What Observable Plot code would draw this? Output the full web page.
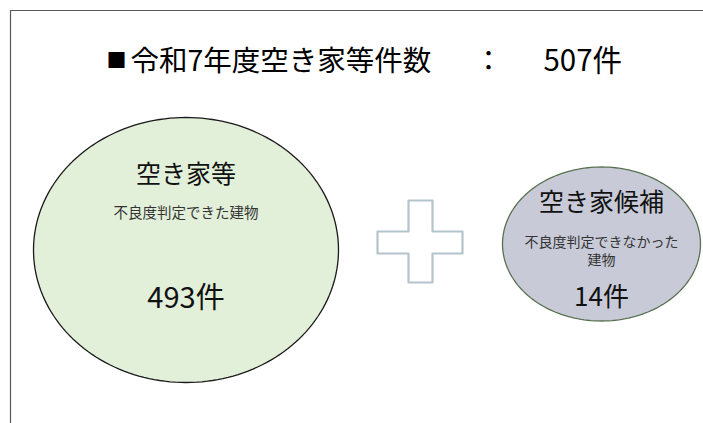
<!DOCTYPE html>
<html><head><meta charset="utf-8">
<script src="https://cdn.jsdelivr.net/npm/d3@7"></script>
<script src="https://cdn.jsdelivr.net/npm/@observablehq/plot@0.6"></script>
<style>html,body{margin:0;padding:0;background:#fff}#chart svg{display:block}</style>
</head><body><div id="chart"></div>
<script>
// ---- data ----
const titleBullet = "■";
const titleText = "令和7年度空き家等件数";
const colonText = "：";
const total = 507;
const unit = "件";
const categories = ["空き家等", "空き家候補"];
const counts = [493, 14];
const descriptions = [["不良度判定できた建物"], ["不良度判定できなかった", "建物"]];

// ---- layout & style (not data) ----
const W = 703, H = 423;
const font = "'Noto Sans CJK JP', 'Noto Sans', sans-serif";
const titleLayout = {y: 61, size: 28.5, bulletX: 116, bulletSize: 20, mainX: 130, colonX: 488, totalX: 543, totalSize: 29.5};
const shapes = [
  {cx: 185.5, cy: 249.5, rx: 152.5, ry: 132.5, fill: "#e2efd9", stroke: "#1a1a1a",
   labelY: 174.5, labelSize: 25, descY: 211.5, descSize: 14.5, countY: 298.5, countSize: 29},
  {cx: 601, cy: 243.5, rx: 99, ry: 77, fill: "#c8cad8", stroke: "#5a7152",
   labelY: 202.5, labelSize: 25, descY: 250, descSize: 14, countY: 297.5, countSize: 26}
];
const descLineHeight = 1.22;
const plusBox = {x0: 377, x1: 462, y0: 200, y1: 282, ax0: 408, ax1: 432, ay0: 231, ay1: 253};

// ellipses
const ellipsePts = [];
categories.forEach((c, i) => {
  const s = shapes[i];
  d3.range(0, 361, 2).forEach(a => {
    const t = a * Math.PI / 180;
    ellipsePts.push({cat: c, x: s.cx + s.rx * Math.cos(t), y: s.cy + s.ry * Math.sin(t)});
  });
});
// plus sign outline
const p = plusBox;
const plusPts = [
  [p.ax0,p.y0],[p.ax1,p.y0],[p.ax1,p.ay0],[p.x1,p.ay0],[p.x1,p.ay1],[p.ax1,p.ay1],
  [p.ax1,p.y1],[p.ax0,p.y1],[p.ax0,p.ay1],[p.x0,p.ay1],[p.x0,p.ay0],[p.ax0,p.ay0],[p.ax0,p.y0]
].map(([x,y]) => ({x, y}));

const labelRows = categories.map((c, i) => ({text: c, x: shapes[i].cx, y: shapes[i].labelY, size: shapes[i].labelSize}));
const descRows = descriptions.map((lines, i) => ({text: lines.join("\n"), x: shapes[i].cx, y: shapes[i].descY, size: shapes[i].descSize}));
const countRows = counts.map((v, i) => ({text: v + unit, x: shapes[i].cx, y: shapes[i].countY, size: shapes[i].countSize}));
const tl = titleLayout;

const chart = Plot.plot({
  width: W, height: H, margin: 0,
  style: {background: "#fff", overflow: "visible"},
  x: {domain: [0, W], range: [0, W], axis: null},
  y: {domain: [0, H], range: [0, H], axis: null},
  marks: [
    Plot.ruleY([10], {x1: 10, x2: W, stroke: "#595959", strokeWidth: 1.2}),
    Plot.ruleX([10], {y1: 10, y2: H, stroke: "#595959", strokeWidth: 1.2}),
    Plot.line(ellipsePts, {x: "x", y: "y", z: "cat",
      fill: d => shapes[categories.indexOf(d.cat)].fill,
      stroke: d => shapes[categories.indexOf(d.cat)].stroke, strokeWidth: 1.3}),
    Plot.line(plusPts, {x: "x", y: "y", stroke: "#b3c4cc", strokeWidth: 2.2, fill: "#fff"}),
    Plot.text([titleBullet], {x: tl.bulletX, y: tl.y, text: d => d, fontSize: tl.bulletSize,
      fontFamily: font, fill: "#000"}),
    Plot.text([titleText], {x: tl.mainX, y: tl.y, text: d => d, textAnchor: "start", fontSize: tl.size,
      fontFamily: font, fill: "#000"}),
    Plot.text([colonText], {x: tl.colonX, y: tl.y, text: d => d, fontSize: tl.size, fontFamily: font, fill: "#000"}),
    Plot.text([total + unit], {x: tl.totalX, y: tl.y, text: d => d, textAnchor: "start", fontSize: tl.totalSize,
      fontFamily: font, fill: "#000"}),
    Plot.text(labelRows, {x: "x", y: "y", text: "text", fontSize: d => d.size, fontFamily: font, fill: "#111"}),
    Plot.text(descRows, {x: "x", y: "y", text: "text", fontSize: d => d.size, lineHeight: descLineHeight,
      fontFamily: font, fill: "#333"}),
    Plot.text(countRows, {x: "x", y: "y", text: "text", fontSize: d => d.size, fontFamily: font, fill: "#111"})
  ]
});
document.getElementById("chart").appendChild(chart);
</script>
</body></html>
